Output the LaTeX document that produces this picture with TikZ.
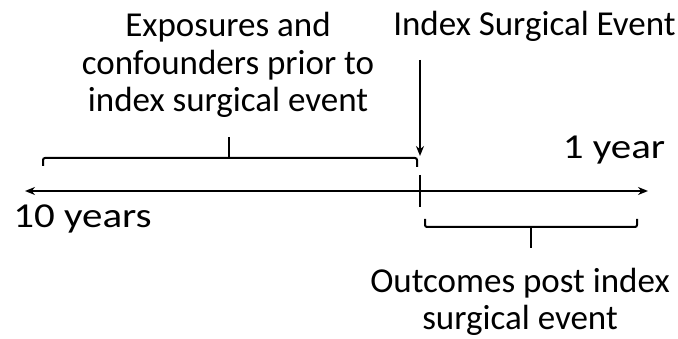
\documentclass[tikz,border=0pt]{standalone}
\usepackage{fontspec}
\setmainfont{Carlito}
\usetikzlibrary{arrows.meta}

\begin{document}
\begin{tikzpicture}[x=1pt,y=-1pt,>={Stealth[length=10pt,width=8pt]},line width=2pt,
    label text/.style={inner sep=0pt,align=center,font=\fontsize{35}{37.5}\selectfont},
    wide text/.style={inner sep=0pt,font=\fontsize{35}{37.5}\selectfont},
    bracket/.style={rounded corners=2pt}]
            \useasboundingbox (0,0) rectangle (678,339);

            % time line
            \coordinate (start) at (25,191);
            \coordinate (stop) at (648,191);
            \coordinate (event) at (420,191);
            \draw[<->] (start) -- (stop);
            \draw (event) ++(0,-16) -- ++(0,32);

            % labels
            \node[wide text, anchor=base] (ten) at (82.5,228) {\scalebox{1.17}[1]{10 years}};
            \node[wide text, anchor=base] (one) at (614,159) {\scalebox{1.17}[1]{1 year}};
            \node[label text, anchor=base] (index) at (534.5,36) {Index Surgical Event};
            \node[label text, anchor=north] (prior) at (228,11.5) {Exposures and\\confounders prior to\\index surgical event};
            \node[label text, anchor=north] (post) at (520,267) {Outcomes post index\\surgical event};

            % event arrow
            \coordinate (index top) at (420,60);
            \coordinate (index tip) at (420,156);
            \draw[->] (index top) -- (index tip);

            % brackets
            \draw[bracket] (43,166) -- (43,158) -- (417,158) -- (417,167);
            \draw (229,158) -- (229,137);
            \draw[bracket] (425,219) -- (425,227) -- (637,227) -- (637,219);
            \draw (531,227) -- (531,248);
        \end{tikzpicture}
\end{document}
